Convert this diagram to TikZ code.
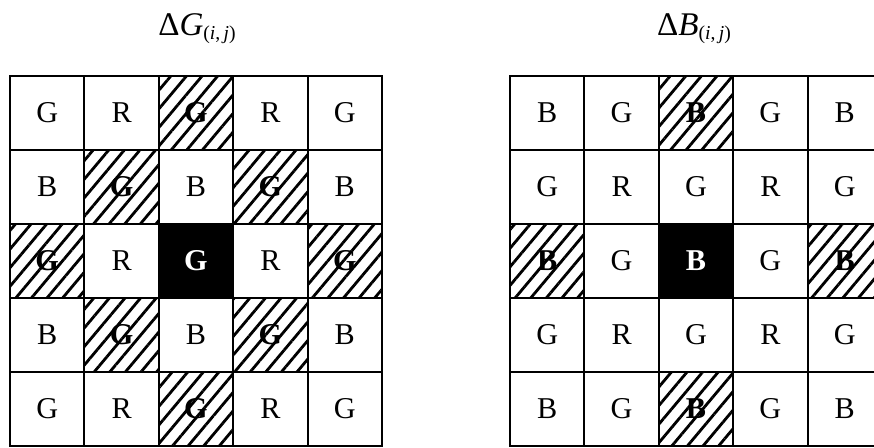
\documentclass[tikz,border=0pt]{standalone}
\usepackage{fontspec}
\setmainfont{Liberation Serif}
\usetikzlibrary{patterns.meta}

\begin{document}
\begin{tikzpicture}[
  x=0.025cm, y=-0.025cm,
  font=\fontsize{21.5}{24}\selectfont,
  cell/.style={draw, line width=1.4pt, minimum width=1.86cm, minimum height=1.85cm, inner sep=0pt, fill=white},
  hatch/.style={cell, font=\fontsize{21.5}{24}\selectfont\bfseries,
    pattern={Lines[angle=50, distance=8.5pt, line width=2pt]}},
  centre/.style={cell, fill=black, text=white, font=\fontsize{21.5}{24}\selectfont\bfseries},
  title/.style={anchor=base, font=\fontsize{23.5}{26}\selectfont}
]
\useasboundingbox (0,0) rectangle (874,447);
\newcommand{\idx}{\raisebox{-3pt}{\fontsize{14}{15}\selectfont(\textit{i},\,\textit{j})}}
% Titles
\node[title] (tg) at (197,35) {Δ\textit{G}\idx};
\node[title] (tb) at (694,35) {Δ\textit{B}\idx};
% Left grid: Delta G
\foreach \row [count=\r] in {{G,R,G,R,G},{B,G,B,G,B},{G,R,G,R,G},{B,G,B,G,B},{G,R,G,R,G}}
  \foreach \l [count=\c] in \row {
    \pgfmathtruncatemacro\d{abs(\r-3)+abs(\c-3)}
    \ifnum\d=0 \def\sty{centre}\else\ifnum\d=2 \def\sty{hatch}\else\def\sty{cell}\fi\fi
    \node[\sty] (dg-\r-\c) at ({47.2+74.4*(\c-1)},{113+74*(\r-1)}) {\l};
  }
% Right grid: Delta B
\foreach \row [count=\r] in {{B,G,B,G,B},{G,R,G,R,G},{B,G,B,G,B},{G,R,G,R,G},{B,G,B,G,B}}
  \foreach \l [count=\c] in \row {
    \pgfmathtruncatemacro\d{abs(\r-3)+abs(\c-3)}
    \pgfmathtruncatemacro\a{(\r-3)*(\c-3)}
    \def\sty{cell}
    \ifnum\d=0 \def\sty{centre}\fi
    \ifnum\d=2 \ifnum\a=0 \def\sty{hatch}\fi\fi
    \node[\sty] (db-\r-\c) at ({547.2+74.4*(\c-1)},{113+74*(\r-1)}) {\l};
  }
\end{tikzpicture}
\end{document}
